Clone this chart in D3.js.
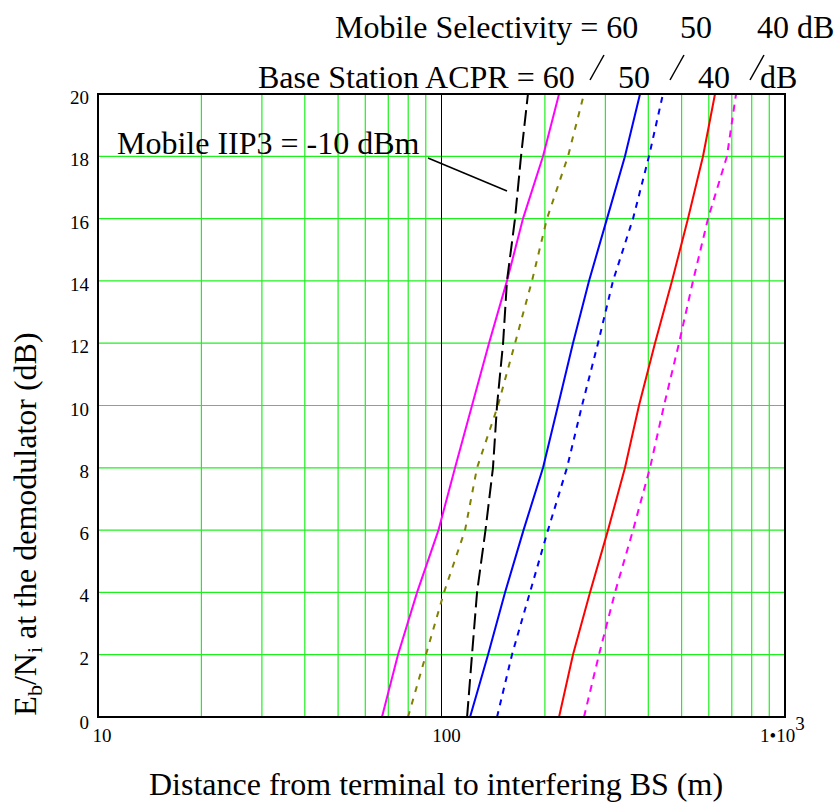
<!DOCTYPE html>
<html>
<head>
<meta charset="utf-8">
<script src="https://cdn.jsdelivr.net/npm/d3@7"></script>
<style>
  body { margin: 0; background: #fff; }
  text { font-family: "Liberation Serif", "Times New Roman", serif; fill: #000; }
</style>
</head>
<body>
<script>
    // Eb/Ni levels (dB) at which each curve was read
    var ebLevels = [0, 2, 4, 6, 8, 10, 12, 14, 16, 18, 20];

    // distance to interfering BS (m) for each Eb/Ni level
    var magentaSolid  = [67.1, 74.7, 84.9, 98.0, 109.5, 122.7, 137.5, 155.1, 172.7, 197.5, 219.9];
    var oliveDashed   = [79.9, 90.1, 101.7, 117.1, 126.9, 146.0, 163.7, 183.4, 202.8, 233.5, 259.9];
    var blackLongDash = [118.7, 122.7, 126.9, 134.3, 141.2, 145.1, 151.1, 155.1, 163.7, 170.4, 178.5];
    var blueSolid     = [121.1, 136.6, 153.1, 173.3, 197.5, 218.4, 241.4, 268.8, 303.3, 342.1, 378.4];
    var blueDashed    = [145.1, 160.4, 180.9, 204.2, 231.9, 256.5, 285.5, 315.7, 361.1, 401.8, 441.3];
    var redSolid      = [219.9, 241.4, 270.6, 305.3, 342.1, 375.8, 418.3, 468.8, 522.0, 577.2, 625.5];
    var magentaDashed = [259.9, 287.4, 320.0, 361.1, 404.6, 444.4, 491.4, 539.8, 596.9, 677.7, 720.2];

    var yTicks = [0, 2, 4, 6, 8, 10, 12, 14, 16, 18, 20];
    var xGrid = [20, 30, 40, 50, 60, 70, 80, 90, 200, 300, 400, 500, 600, 700, 800, 900];

    var width = 835, height = 804;
    // plot frame, in pixels (note: "top" is reserved on window)
    var pLeft = 98, pRight = 785, pTop = 94, pBottom = 717;

    var svg = d3.select("body")
        .append("svg")
        .attr("width", width)
        .attr("height", height);

    var x = d3.scaleLog().domain([10, 1000]).range([pLeft, pRight]);
    var y = d3.scaleLinear().domain([0, 20]).range([pBottom, pTop]);

    // green grid
    var grid = svg.append("g");
    grid.selectAll("line.v")
        .data(xGrid)
        .enter().append("line")
        .attr("x1", d => x(d)).attr("x2", d => x(d))
        .attr("y1", pTop).attr("y2", pBottom)
        .attr("stroke", "#1ef01e").attr("stroke-width", 1.2);
    grid.selectAll("line.h")
        .data(yTicks.filter(d => d > 0 && d < 20))
        .enter().append("line")
        .attr("x1", pLeft).attr("x2", pRight)
        .attr("y1", d => y(d)).attr("y2", d => y(d))
        .attr("stroke", "#1ef01e").attr("stroke-width", 1.2);

    // decade line at 100 is black
    grid.append("line")
        .attr("x1", x(100)).attr("x2", x(100))
        .attr("y1", pTop).attr("y2", pBottom)
        .attr("stroke", "#000").attr("stroke-width", 1);

    // curves
    var series = [
        { values: magentaSolid,  colour: "#ff00ff", dash: null },
        { values: oliveDashed,   colour: "#808000", dash: "6,7" },
        { values: blackLongDash, colour: "#000000", dash: "16,6" },
        { values: blueSolid,     colour: "#0000ff", dash: null },
        { values: blueDashed,    colour: "#0000ff", dash: "6,6" },
        { values: redSolid,      colour: "#ff0000", dash: null },
        { values: magentaDashed, colour: "#ff00ff", dash: "7,6" }
    ];

    var line = d3.line()
        .x(d => x(d[0]))
        .y(d => y(d[1]));

    series.forEach(function (s) {
        var pts = s.values.map((v, i) => [v, ebLevels[i]]);
        svg.append("path")
            .datum(pts)
            .attr("d", line)
            .attr("fill", "none")
            .attr("stroke", s.colour)
            .attr("stroke-width", 2)
            .attr("stroke-dasharray", s.dash);
    });

    // frame
    svg.append("rect")
        .attr("x", pLeft).attr("y", pTop)
        .attr("width", pRight - pLeft).attr("height", pBottom - pTop)
        .attr("fill", "none").attr("stroke", "#000").attr("stroke-width", 2);

    // y tick labels
    svg.selectAll("text.ytick")
        .data(yTicks)
        .enter().append("text")
        .attr("x", 89)
        .attr("y", d => y(d) + (d === 0 ? 12 : 10))
        .attr("text-anchor", "end")
        .style("font-size", "19px")
        .text(d => d);

    // x tick labels
    svg.append("text").attr("x", x(10) + 4).attr("y", 742)
        .attr("text-anchor", "middle").style("font-size", "19px").text("10");
    svg.append("text").attr("x", x(100) + 5).attr("y", 742)
        .attr("text-anchor", "middle").style("font-size", "19px").text("100");
    var t3 = svg.append("text").attr("x", 760).attr("y", 742).style("font-size", "19px");
    t3.append("tspan").text("1\u202210");
    t3.append("tspan").attr("dy", -12).text("3");

    // axis titles
    svg.append("text")
        .attr("x", 436).attr("y", 795)
        .attr("text-anchor", "middle")
        .style("font-size", "32px")
        .text("Distance from terminal to interfering BS (m)");

    var yl = svg.append("text")
        .attr("transform", "translate(36,524) rotate(-90)")
        .attr("text-anchor", "middle")
        .style("font-size", "32px");
    yl.append("tspan").text("E");
    yl.append("tspan").attr("dy", 6).style("font-size", "22px").text("b");
    yl.append("tspan").attr("dy", -6).text("/N");
    yl.append("tspan").attr("dy", 6).style("font-size", "22px").text("i");
    yl.append("tspan").attr("dy", -6).text(" at the demodulator (dB)");

    // annotations
    var annSize = "32px";
    svg.append("text").attr("x", 335).attr("y", 38).style("font-size", annSize).text("Mobile Selectivity = 60");
    svg.append("text").attr("x", 680).attr("y", 38).style("font-size", annSize).text("50");
    svg.append("text").attr("x", 757).attr("y", 38).style("font-size", annSize).text("40 dB");

    svg.append("text").attr("x", 258).attr("y", 88).style("font-size", annSize).text("Base Station ACPR = 60");
    svg.append("text").attr("x", 618).attr("y", 88).style("font-size", annSize).text("50");
    svg.append("text").attr("x", 698).attr("y", 88).style("font-size", annSize).text("40");
    svg.append("text").attr("x", 760).attr("y", 88).style("font-size", annSize).text("dB");

    [604, 684, 764].forEach(function (sx) {
        svg.append("line")
            .attr("x1", sx).attr("y1", 55)
            .attr("x2", sx - 14).attr("y2", 80)
            .attr("stroke", "#000").attr("stroke-width", 1.5);
    });

    svg.append("text").attr("x", 117).attr("y", 154).style("font-size", annSize).text("Mobile IIP3 = -10 dBm");
    svg.append("line")
        .attr("x1", 428).attr("y1", 158)
        .attr("x2", 507).attr("y2", 191)
        .attr("stroke", "#000").attr("stroke-width", 1.5);
</script>
</body>
</html>
